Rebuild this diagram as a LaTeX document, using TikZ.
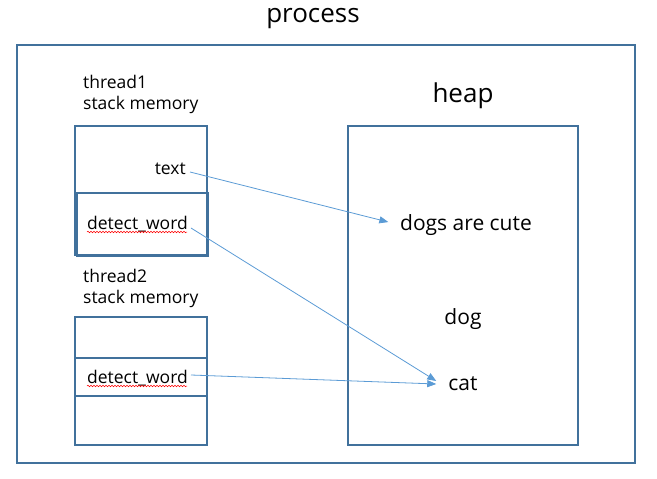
\documentclass[tikz,border=0pt]{standalone}
\usepackage{fontspec}
\setmainfont{Open Sans}
\usetikzlibrary{arrows.meta,decorations.pathmorphing}
\definecolor{boxblue}{HTML}{41719C}
\definecolor{arrowblue}{HTML}{5B9BD5}
\begin{document}
\begin{tikzpicture}[x=1pt,y=-1pt,
  box/.style={draw=boxblue,line width=2pt},
  lbl/.style={inner sep=0pt,font=\fontsize{17.5}{21}\selectfont},
  heapitem/.style={inner sep=0pt,font=\fontsize{21}{25}\selectfont},
  big/.style={inner sep=0pt,font=\fontsize{26}{30}\selectfont},
  ptr/.style={draw=arrowblue,line width=0.8pt,-{Triangle[width=7pt,length=9pt]}},
  squig/.style={draw=red,line width=0.5pt,decorate,decoration={snake,segment length=3pt,amplitude=0.8pt}}]
\useasboundingbox (0,0) rectangle (657,479);
% outer process
\node[big,anchor=base] (proc) at (313,23) {process};
\draw[box] (17,45) rectangle (635,463);
% thread1
\node[lbl,anchor=west,align=left] (t1lbl) at (83,94) {thread1\\stack memory};
\draw[box] (75,126) rectangle (207,255);
\draw[box] (77,193) rectangle (208,256);
\node[lbl,anchor=east] (txt) at (186,169) {text};
\node[lbl,anchor=west] (dw1) at (87,224) {detect\_word};
\draw[squig] (87,232) -- (187,232);
% thread2
\node[lbl,anchor=west,align=left] (t2lbl) at (83,288) {thread2\\stack memory};
\draw[box] (75,317) rectangle (207,445);
\draw[box] (75,358) -- (207,358);
\draw[box] (75,396) -- (207,396);
\node[lbl,anchor=west] (dw2) at (87,378) {detect\_word};
\draw[squig] (87,386) -- (187,386);
% heap
\node[big] (heaplbl) at (463,96) {heap};
\draw[box] (348,126) rectangle (578,445);
\node[heapitem] (dogs) at (466,225) {dogs are cute};
\node[heapitem] (dog) at (463,319) {dog};
\node[heapitem] (cat) at (463,384) {cat};
% pointers
\draw[ptr,shorten >=12pt] (txt.east) ++(4,3) coordinate (s1) -- (dogs.west);
\draw[ptr] (dw1.east) ++(3,4) coordinate (s2) -- ([xshift=-12pt,yshift=3pt]cat.west);
\draw[ptr] (dw2.east) ++(3,-3) coordinate (s3) -- ([xshift=-12pt]cat.west);
\end{tikzpicture}
\end{document}
